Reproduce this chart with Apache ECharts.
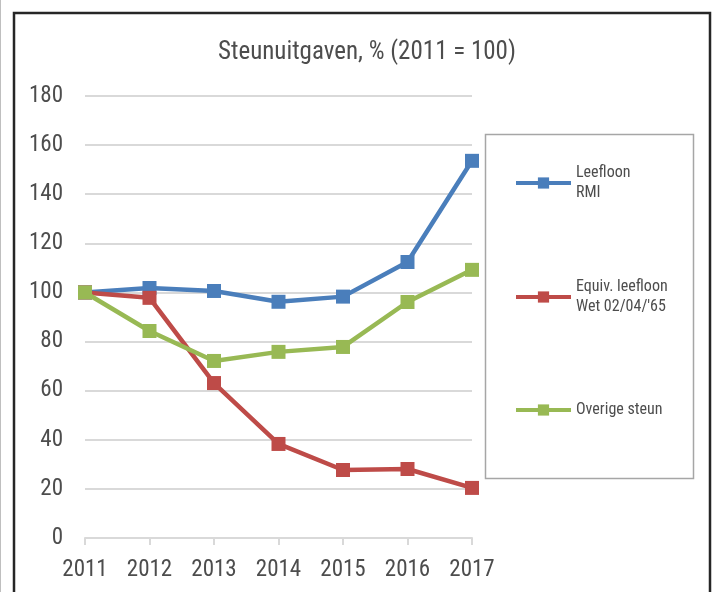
<!DOCTYPE html>
<html>
<head>
<meta charset="utf-8">
<script src="https://cdn.jsdelivr.net/npm/echarts@6/dist/echarts.min.js"></script>
<style>
  html, body { margin: 0; padding: 0; background: #fff; }
  #chart { width: 716px; height: 592px; }
</style>
</head>
<body>
<div id="chart"></div>
<script>
const years = ["2011", "2012", "2013", "2014", "2015", "2016", "2017"];
const leefloon = [100, 101.8, 100.6, 96.2, 98.3, 112.4, 153.6];
const equivLeefloon = [100, 97.8, 63.1, 38.3, 27.7, 28.1, 20.4];
const overigeSteun = [100, 84.3, 72.1, 75.8, 77.8, 96.1, 109.2];
const seriesNames = ["Leefloon\nRMI", "Equiv. leefloon\nWet 02/04/'65", "Overige steun"];
const seriesColors = ["#4a7ebb", "#be4b48", "#98b954"];

const font = "'Roboto Condensed', 'Liberation Sans', Arial, sans-serif";
const textColor = "#4d4d4d";
const chart = echarts.init(document.getElementById("chart"));

function makeSeries(name, data, color) {
  return {
    name,
    type: "line",
    data,
    symbol: "rect",
    symbolSize: 14,
    showAllSymbol: true,
    lineStyle: { color, width: 4.5 },
    itemStyle: { color },
    emphasis: { disabled: true },
    animation: false,
  };
}

// one legend per item so each can sit at its own height inside the box
function makeLegend(name, top) {
  const twoLines = name.includes("\n");
  return {
    data: [name],
    left: 514,
    top,
    itemWidth: 55,
    itemHeight: 14,
    padding: 0,
    selectedMode: false,
    lineStyle: { width: 4 },
    textStyle: {
      fontFamily: font,
      fontSize: 16,
      color: textColor,
      lineHeight: 20,
      padding: twoLines ? [20, 0, 0, 0] : 0,
    },
  };
}

chart.setOption({
  backgroundColor: "#fff",
  title: {
    text: "Steunuitgaven, % (2011 = 100)",
    left: 362,
    textAlign: "center",
    top: 35,
    textStyle: { fontFamily: font, fontSize: 25, fontWeight: "normal", color: textColor },
  },
  grid: { left: 85, right: 244, top: 96, bottom: 54 },
  legend: [
    makeLegend(seriesNames[0], 153),
    makeLegend(seriesNames[1], 267),
    makeLegend(seriesNames[2], 400),
  ],
  xAxis: {
    type: "category",
    data: years,
    boundaryGap: false,
    axisLine: { lineStyle: { color: "#d9d9d9", width: 2 } },
    axisTick: { show: true, length: 7, inside: false, lineStyle: { color: "#d9d9d9", width: 2 } },
    axisLabel: { fontFamily: font, fontSize: 23, color: textColor, margin: 21 },
    splitLine: { show: false },
  },
  yAxis: {
    type: "value",
    min: 0,
    max: 180,
    interval: 20,
    axisLine: { show: false },
    axisTick: { show: false },
    axisLabel: { fontFamily: font, fontSize: 23, color: textColor, margin: 22 },
    splitLine: { lineStyle: { color: "#d9d9d9", width: 2 } },
  },
  graphic: [
    { type: "rect", shape: { x: 0, y: 0, width: 1, height: 592 }, style: { fill: "#bfbfbf" }, silent: true },
    { type: "rect", shape: { x: 14, y: 13, width: 696, height: 600 }, style: { fill: "none", stroke: "#262626", lineWidth: 2.5 }, silent: true },
    { type: "rect", shape: { x: 485.5, y: 134.5, width: 208, height: 344 }, style: { fill: "none", stroke: "#a6a6a6", lineWidth: 1.5 }, silent: true, z: -1 },
  ],
  series: [
    makeSeries(seriesNames[0], leefloon, seriesColors[0]),
    makeSeries(seriesNames[1], equivLeefloon, seriesColors[1]),
    makeSeries(seriesNames[2], overigeSteun, seriesColors[2]),
  ],
  animation: false,
});
</script>
</body>
</html>
